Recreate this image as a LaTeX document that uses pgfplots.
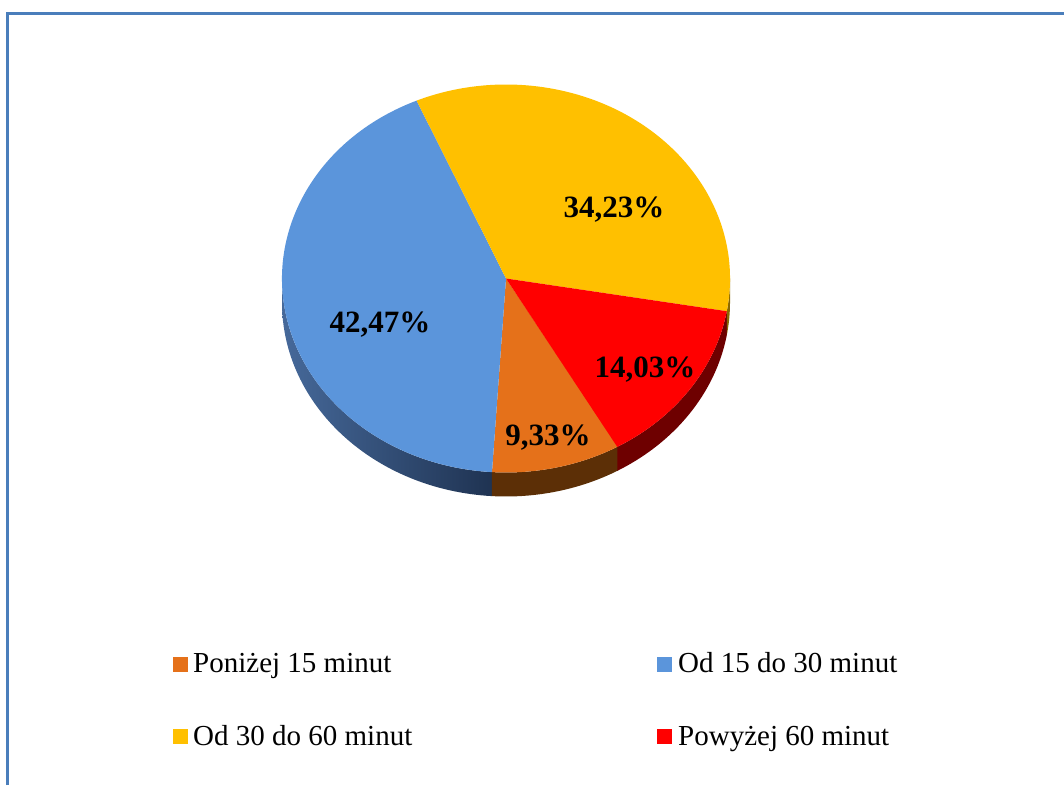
\documentclass[border=0pt]{standalone}
\usepackage{pgfplots}
\usepackage{pgfplotstable}
\pgfplotsset{compat=1.18}
\usepackage{fontspec}
\setmainfont{Liberation Serif}
\definecolor{cOr}{HTML}{E5711A}
\definecolor{cBl}{HTML}{5B95DB}
\definecolor{cYe}{HTML}{FFC000}
\definecolor{cRe}{HTML}{FF0000}
\definecolor{sOr}{HTML}{5C2F06}
\definecolor{sBlL}{HTML}{46699A}
\definecolor{sBlR}{HTML}{1F3352}
\definecolor{sYe}{HTML}{8A6800}
\definecolor{sRe}{HTML}{6E0000}
\definecolor{frame}{HTML}{4A7EBB}

\pgfplotstableread{
label pct
A 9.33
B 42.47
C 34.23
D 14.03
}\pietable

\begin{document}
\begin{tikzpicture}
\pgfplotstablegetelem{0}{pct}\of\pietable \let\pA\pgfplotsretval
\pgfplotstablegetelem{1}{pct}\of\pietable \let\pB\pgfplotsretval
\pgfplotstablegetelem{2}{pct}\of\pietable \let\pC\pgfplotsretval
\pgfplotstablegetelem{3}{pct}\of\pietable \let\pD\pgfplotsretval
\def\cx{506}\def\cy{506.5}\def\rx{224}\def\ry{194}\def\dd{24}
\pgfmathsetmacro\sA{300}
\pgfmathsetmacro\sB{\sA-3.6*\pA}
\pgfmathsetmacro\sC{\sB-3.6*\pB}
\pgfmathsetmacro\sD{\sC-3.6*\pC}
\pgfmathsetmacro\sE{\sD-3.6*\pD}
\begin{axis}[name=ax, x=1pt, y=1pt, xmin=0, xmax=1064, ymin=0, ymax=785,
  hide axis, clip=false, disabledatascaling]
% frame
\draw[line width=3pt, color=frame] (axis cs:7.5,0) -- (axis cs:7.5,771.5) -- (axis cs:1064,771.5);
% sides
\shade[left color=sBlL, right color=sBlR]
  (axis cs:{\cx+\rx*cos(180)},{\cy+\ry*sin(180)}) arc[start angle=180, end angle=\sB, x radius=\rx pt, y radius=\ry pt]
  -- ++(0pt,-\dd pt) arc[start angle=\sB, end angle=180, x radius=\rx pt, y radius=\ry pt] -- cycle;
\fill[sOr]
  (axis cs:{\cx+\rx*cos(\sB)},{\cy+\ry*sin(\sB)}) arc[start angle=\sB, end angle=\sA, x radius=\rx pt, y radius=\ry pt]
  -- ++(0pt,-\dd pt) arc[start angle=\sA, end angle=\sB, x radius=\rx pt, y radius=\ry pt] -- cycle;
\fill[sRe]
  (axis cs:{\cx+\rx*cos(\sE)},{\cy+\ry*sin(\sE)}) arc[start angle=\sE, end angle=\sD, x radius=\rx pt, y radius=\ry pt]
  -- ++(0pt,-\dd pt) arc[start angle=\sD, end angle=\sE, x radius=\rx pt, y radius=\ry pt] -- cycle;
\fill[sYe]
  (axis cs:{\cx+\rx*cos(\sD)},{\cy+\ry*sin(\sD)}) arc[start angle=\sD, end angle=0, x radius=\rx pt, y radius=\ry pt]
  -- ++(0pt,-\dd pt) arc[start angle=0, end angle=\sD, x radius=\rx pt, y radius=\ry pt] -- cycle;
% top faces
\fill[cOr] (axis cs:\cx,\cy) -- (axis cs:{\cx+\rx*cos(\sB)},{\cy+\ry*sin(\sB)}) arc[start angle=\sB, end angle=\sA, x radius=\rx pt, y radius=\ry pt] -- cycle;
\fill[cBl] (axis cs:\cx,\cy) -- (axis cs:{\cx+\rx*cos(\sC)},{\cy+\ry*sin(\sC)}) arc[start angle=\sC, end angle=\sB, x radius=\rx pt, y radius=\ry pt] -- cycle;
\fill[cYe] (axis cs:\cx,\cy) -- (axis cs:{\cx+\rx*cos(\sD)},{\cy+\ry*sin(\sD)}) arc[start angle=\sD, end angle=\sC, x radius=\rx pt, y radius=\ry pt] -- cycle;
\fill[cRe] (axis cs:\cx,\cy) -- (axis cs:{\cx+\rx*cos(\sE)},{\cy+\ry*sin(\sE)}) arc[start angle=\sE, end angle=\sD, x radius=\rx pt, y radius=\ry pt] -- cycle;
% data labels
\begin{scope}[every node/.style={anchor=base, inner sep=0pt, font=\bfseries\fontsize{31}{36}\selectfont}]
\node at (axis cs:614,567) {34,23\%};
\node at (axis cs:380,452) {42,47\%};
\node at (axis cs:645,407) {14,03\%};
\node at (axis cs:548,340) {9,33\%};
\end{scope}
% legend
\addplot[only marks, mark=square*, mark size=7pt, color=cOr] coordinates {(180,120.5)};
\addplot[only marks, mark=square*, mark size=7pt, color=cBl] coordinates {(664,120.5)};
\addplot[only marks, mark=square*, mark size=7pt, color=cYe] coordinates {(180,49)};
\addplot[only marks, mark=square*, mark size=7pt, color=cRe] coordinates {(664,49)};
\begin{scope}[every node/.style={anchor=base west, inner sep=0pt, font=\fontsize{29}{34}\selectfont}]
\node at (axis cs:193,113) {Poniżej 15 minut};
\node at (axis cs:678,113) {Od 15 do 30 minut};
\node at (axis cs:193,40) {Od 30 do 60 minut};
\node at (axis cs:678,40) {Powyżej 60 minut};
\end{scope}
\end{axis}
\pgfresetboundingbox
\path[use as bounding box] (ax.south west) rectangle (ax.north east);
\end{tikzpicture}
\end{document}
